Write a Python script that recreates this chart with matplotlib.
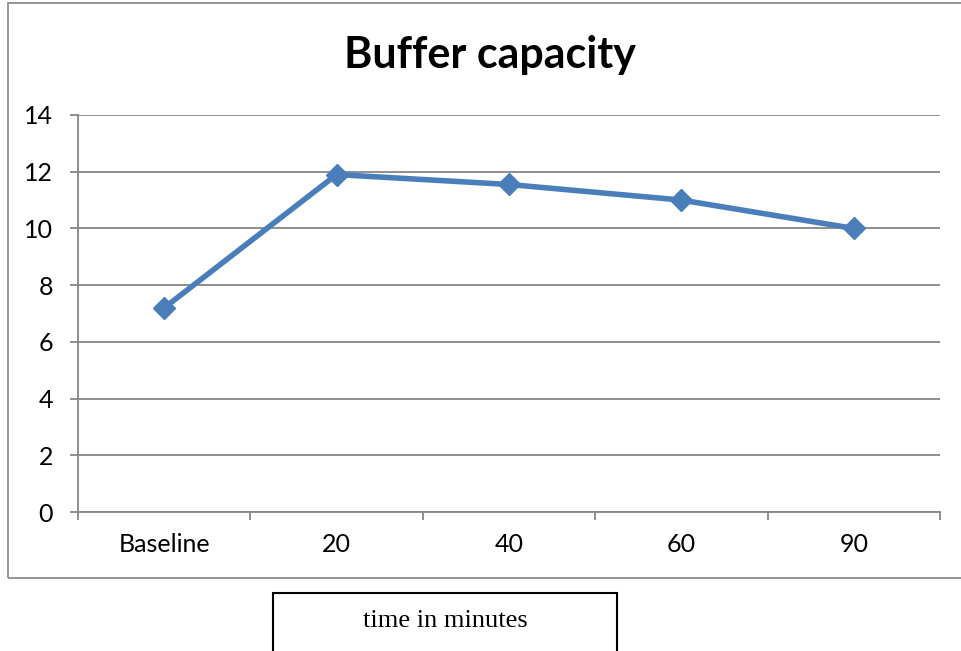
import matplotlib
matplotlib.use("Agg")
import matplotlib.pyplot as plt
from matplotlib.patches import Rectangle

categories = ["Baseline", "20", "40", "60", "90"]
buffer_capacity = [7.2, 11.9, 11.55, 11.0, 10.0]
y_ticks = [0, 2, 4, 6, 8, 10, 12, 14]

W, H = 961, 651
fig = plt.figure(figsize=(W / 100, H / 100), dpi=100)
plt.rcParams['font.family'] = ['Lato', 'DejaVu Sans']

grey = "#868686"
blue = "#4A7EBB"

# outer chart frame (runs off the right edge)
fig.patches.append(Rectangle((8 / W, (H - 578) / H), 1.2, (578 - 3) / H,
                             transform=fig.transFigure, fill=False,
                             edgecolor="#8c8c8c", linewidth=1.3))

ax = fig.add_axes([78 / W, (H - 512) / H, (940 - 78) / W, (512 - 115) / H])
x = list(range(len(categories)))
ax.plot(x, buffer_capacity, color=blue, linewidth=4, marker="D",
        markersize=11, markerfacecolor=blue, markeredgecolor=blue, zorder=3)

ax.set_xlim(-0.5, len(categories) - 0.5)
ax.set_ylim(0, 14)
ax.set_yticks(y_ticks)
ax.set_yticklabels([str(v) for v in y_ticks], fontsize=18)
ax.yaxis.grid(True, color=grey, linewidth=1.3)
ax.set_axisbelow(True)

# category boundaries get the tick marks, labels sit between them
ax.set_xticks([i - 0.5 for i in range(len(categories) + 1)])
ax.set_xticklabels([])
ax.set_xticks(x, minor=True)
ax.set_xticklabels(categories, minor=True, fontsize=18)
ax.tick_params(axis="x", which="major", length=6, width=1.3, color=grey, direction="out")
ax.tick_params(axis="x", which="minor", length=0, pad=15)
ax.tick_params(axis="y", length=6, width=1.3, color=grey, pad=12)

for side in ["top", "right"]:
    ax.spines[side].set_visible(False)
for side in ["left", "bottom"]:
    ax.spines[side].set_color(grey)
    ax.spines[side].set_linewidth(1.3)

fig.text(490 / W, (H - 55) / H, "Buffer capacity", ha="center", va="center",
         fontsize=31, fontweight="bold")

# axis title box below the chart
fig.patches.append(Rectangle((273 / W, -0.05), (617 - 273) / W, (H - 593) / H + 0.05,
                             transform=fig.transFigure, fill=False,
                             edgecolor="black", linewidth=1.5))
fig.text(445 / W, (H - 621) / H, "time in minutes", ha="center", va="center",
         fontsize=19, family=["Liberation Serif", "DejaVu Serif"])

fig.savefig("out.png", dpi=100)
